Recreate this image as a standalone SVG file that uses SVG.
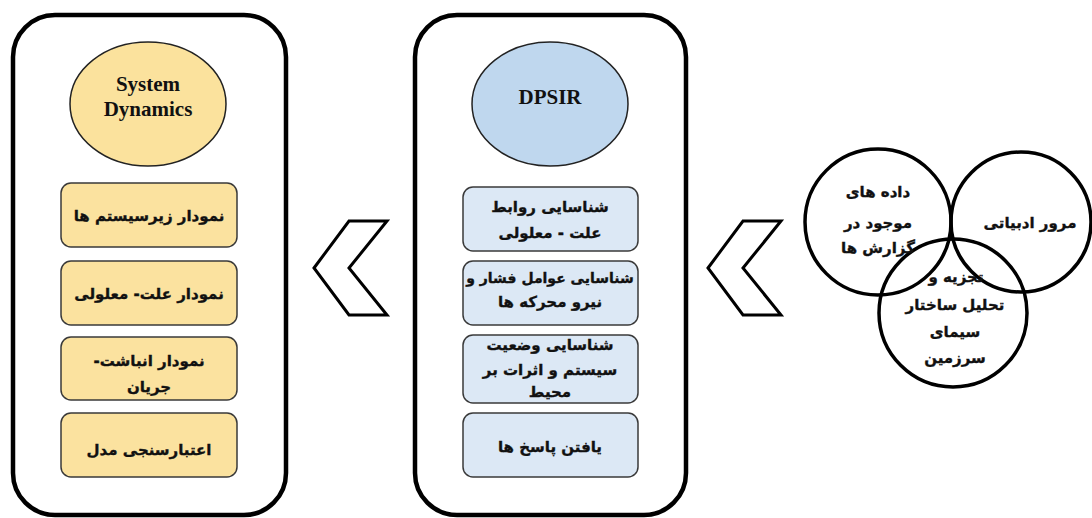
<svg xmlns="http://www.w3.org/2000/svg" width="1092" height="518" viewBox="0 0 1092 518">
<style>
.panel{fill:#fff;stroke:#000;stroke-width:4.5}
.ybox{fill:#fbe29f;stroke:#3a3a3a;stroke-width:1.5}
.bbox{fill:#dce8f5;stroke:#3a3a3a;stroke-width:1.5}
.yell{fill:#fbe29d;stroke:#222;stroke-width:1.5}
.bell{fill:#bfd7ee;stroke:#222;stroke-width:1.5}
.fa{font-family:"DejaVu Sans",sans-serif;font-weight:bold;font-size:15px;fill:#111;stroke:#111;stroke-width:0.35;text-anchor:middle;direction:rtl}
.sm{font-size:14px}
.en{font-family:"Liberation Serif",serif;font-weight:bold;font-size:21px;fill:#111;text-anchor:middle}
.chev{fill:#fff;stroke:#000;stroke-width:3;stroke-linejoin:miter}
.venn{fill:none;stroke:#000;stroke-width:3.5}
</style>
<rect width="1092" height="518" fill="#fff"/>
<g id="panel-sd">
<rect class="panel" x="13" y="15" width="273" height="500" rx="42"/>
<ellipse class="yell" cx="148" cy="104" rx="78" ry="62"/>
<text class="en" x="148" y="91">System</text>
<text class="en" x="148" y="116">Dynamics</text>
</g>
<g id="sd-1"><rect class="ybox" x="61" y="183" width="176" height="64" rx="10"/><text class="fa" x="149" y="221">نمودار زیرسیستم ها</text></g>
<g id="sd-2"><rect class="ybox" x="61" y="261" width="176" height="64" rx="10"/><text class="fa" x="149" y="299">نمودار علت- معلولی</text></g>
<g id="sd-3"><rect class="ybox" x="61" y="337" width="176" height="63" rx="10"/><text class="fa" x="149" y="366">نمودار انباشت-</text><text class="fa" x="149" y="392">جریان</text></g>
<g id="sd-4"><rect class="ybox" x="61" y="413" width="176" height="64" rx="10"/><text class="fa" x="149" y="455">اعتبارسنجی مدل</text></g>
<g id="panel-dpsir">
<rect class="panel" x="415" y="15" width="271" height="500" rx="42"/>
<ellipse class="bell" cx="550" cy="104" rx="78" ry="62"/>
<text class="en" x="550" y="104">DPSIR</text>
</g>
<g id="dp-1"><rect class="bbox" x="463" y="187" width="175" height="64" rx="10"/><text class="fa" x="550" y="212">شناسایی روابط</text><text class="fa" x="550" y="238">علت - معلولی</text></g>
<g id="dp-2"><rect class="bbox" x="463" y="261" width="175" height="64" rx="10"/><text class="fa sm" x="550" y="283">شناسایی عوامل فشار و</text><text class="fa" x="550" y="307">نیرو محرکه ها</text></g>
<g id="dp-3"><rect class="bbox" x="463" y="335" width="175" height="68" rx="10"/><text class="fa" x="550" y="350">شناسایی وضعیت</text><text class="fa" x="550" y="375">سیستم و اثرات بر</text><text class="fa" x="550" y="397">محیط</text></g>
<g id="dp-4"><rect class="bbox" x="463" y="413" width="175" height="64" rx="10"/><text class="fa" x="550" y="452">یافتن پاسخ ها</text></g>
<g id="connectors">
<polygon class="chev" points="314,268 349,221 387,221 349,268 387,315 349,315"/>
<polygon class="chev" points="708,268 743,221 781,221 743,268 781,315 743,315"/>
</g>
<g id="venn">
<circle class="venn" cx="878" cy="222" r="73"/>
<circle class="venn" cx="1021" cy="222" r="70"/>
<circle class="venn" cx="953" cy="313" r="74"/>
</g>
<g id="v-data"><text class="fa" x="878" y="197">داده های</text><text class="fa" x="878" y="228">موجود در</text><text class="fa" x="878" y="253">گزارش ها</text></g>
<g id="v-lit"><text class="fa" x="1030" y="228">مرور ادبیاتی</text></g>
<g id="v-land"><text class="fa" x="956" y="282">تجزیه و</text><text class="fa" x="955" y="310">تحلیل ساختار</text><text class="fa" x="955" y="337">سیمای</text><text class="fa" x="955" y="363">سرزمین</text></g>
</svg>
